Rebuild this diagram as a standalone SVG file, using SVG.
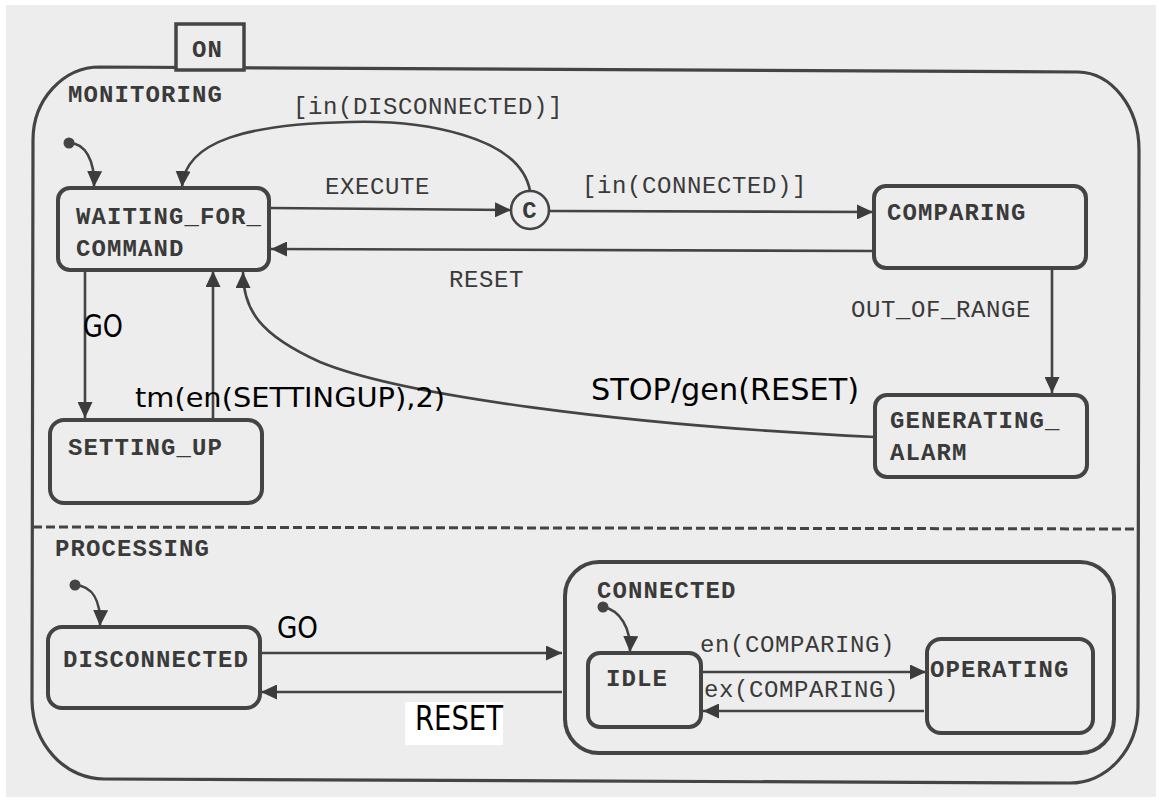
<svg xmlns="http://www.w3.org/2000/svg" width="1159" height="800" viewBox="0 0 1159 800">
<style>
.box{fill:none;stroke:#444;stroke-width:4}
.ln{fill:none;stroke:#444;stroke-width:2.6}
.st{font-family:"Liberation Mono",monospace;font-weight:bold;font-size:24px;letter-spacing:1.1px;fill:#3a3a3a}
.lb{font-family:"Liberation Mono",monospace;font-size:24px;letter-spacing:0.6px;fill:#3a3a3a}
.sn{font-family:"DejaVu Sans",sans-serif;fill:#000}
.dot{fill:#444}
</style>
<defs>
<marker id="ah" markerUnits="userSpaceOnUse" markerWidth="17" markerHeight="15" refX="16" refY="7.5" orient="auto">
<path d="M0,0 L16,7.5 L0,15 Z" fill="#3c3c3c"/>
</marker>
</defs>
<rect x="0" y="0" width="1159" height="800" fill="#ffffff"/>
<rect x="6" y="5" width="1150" height="792" fill="#ecedec"/>

<g id="ON">
<path d="M100,67 L1078,72 A62,78 0 0 1 1139,150 L1138,707 A68,76 0 0 1 1070,783 L105,779 A72,80 0 0 1 32,700 L33,140 A67,73 0 0 1 100,67 Z" fill="none" stroke="#444" stroke-width="3.2"/>
<rect x="176" y="24" width="68" height="46" fill="#ecedec" stroke="#444" stroke-width="3.5"/>
<text class="st" x="192" y="57">ON</text>
<path d="M33,527 L1138,529" fill="none" stroke="#444" stroke-width="3" stroke-dasharray="9 4"/>
</g>

<g id="MONITORING">
<text class="st" x="68" y="102">MONITORING</text>
</g>

<g id="WAITING_FOR_COMMAND">
<rect class="box" x="58" y="188" width="211" height="82" rx="12"/>
<text class="st" x="76" y="224">WAITING_FOR_</text>
<text class="st" x="76" y="256">COMMAND</text>
</g>

<g id="C">
<circle cx="530" cy="210" r="19" fill="#ecedec" stroke="#444" stroke-width="2.6"/>
<text class="st" x="530" y="218" text-anchor="middle" font-size="22" letter-spacing="0">C</text>
</g>

<g id="COMPARING">
<rect class="box" x="874" y="186" width="212" height="82" rx="12"/>
<text class="st" x="887" y="220">COMPARING</text>
</g>

<g id="GENERATING_ALARM">
<rect class="box" x="875" y="395" width="212" height="82" rx="12"/>
<text class="st" x="890" y="428">GENERATING_</text>
<text class="st" x="890" y="460">ALARM</text>
</g>

<g id="SETTING_UP">
<rect class="box" x="50" y="420" width="212" height="83" rx="14"/>
<text class="st" x="68" y="455">SETTING_UP</text>
</g>

<g id="PROCESSING">
<text class="st" x="55" y="556">PROCESSING</text>
</g>

<g id="DISCONNECTED">
<rect class="box" x="48" y="627" width="212" height="81" rx="14"/>
<text class="st" x="63" y="667">DISCONNECTED</text>
</g>

<g id="CONNECTED">
<rect class="box" x="565" y="562" width="549" height="191" rx="34" stroke-width="3.6"/>
<text class="st" x="597" y="598">CONNECTED</text>
</g>

<g id="IDLE">
<rect class="box" x="588" y="653" width="113" height="74" rx="12"/>
<text class="st" x="606" y="686">IDLE</text>
</g>

<g id="OPERATING">
<rect class="box" x="927" y="639" width="166" height="94" rx="14"/>
<text class="st" x="930" y="677">OPERATING</text>
</g>

<g id="connectors">
<circle class="dot" cx="69" cy="143" r="5.5"/>
<path class="ln" d="M69,143 C85,143 95,160 94,187" marker-end="url(#ah)"/>
<path class="ln" d="M530,191 C520,135 420,120 350,122 C250,124 185,140 182,187" marker-end="url(#ah)"/>
<text class="lb" x="293" y="114">[in(DISCONNECTED)]</text>
<path class="ln" d="M270,208 L511,210" marker-end="url(#ah)"/>
<text class="lb" x="325" y="194">EXECUTE</text>
<path class="ln" d="M549,211 L873,212" marker-end="url(#ah)"/>
<text class="lb" x="582" y="193" letter-spacing="0.3">[in(CONNECTED)]</text>
<path class="ln" d="M874,251 L271,249" marker-end="url(#ah)"/>
<text class="lb" x="449" y="287" letter-spacing="1.2">RESET</text>
<path class="ln" d="M1052,268 L1052,393" marker-end="url(#ah)"/>
<text class="lb" x="851" y="317" letter-spacing="1.1">OUT_OF_RANGE</text>
<path class="ln" d="M875,437 C620,425 400,395 320,362 C260,335 243,310 243,272" marker-end="url(#ah)"/>
<text class="sn" x="591" y="400" font-size="31" textLength="268" lengthAdjust="spacingAndGlyphs">STOP/gen(RESET)</text>
<path class="ln" d="M85,270 L85,418" marker-end="url(#ah)"/>
<text class="sn" x="83" y="337" font-size="32" textLength="40" lengthAdjust="spacingAndGlyphs">GO</text>
<path class="ln" d="M213,420 L213,271" marker-end="url(#ah)"/>
<text class="sn" x="135" y="407" font-size="27" textLength="310" lengthAdjust="spacingAndGlyphs">tm(en(SETTINGUP),2)</text>
<circle class="dot" cx="75" cy="585" r="5.5"/>
<path class="ln" d="M75,585 C92,586 101,600 100,626" marker-end="url(#ah)"/>
<path class="ln" d="M260,653 L562,653" marker-end="url(#ah)"/>
<text class="sn" x="277" y="638" font-size="31" textLength="41" lengthAdjust="spacingAndGlyphs">GO</text>
<path class="ln" d="M562,692 L261,692" marker-end="url(#ah)"/>
<rect x="405" y="702" width="98" height="43" fill="#ffffff"/>
<text class="sn" x="415" y="730" font-size="33" textLength="88" lengthAdjust="spacingAndGlyphs">RESET</text>
<circle class="dot" cx="603" cy="607" r="5.5"/>
<path class="ln" d="M603,607 C620,610 631,628 630,652" marker-end="url(#ah)"/>
<path class="ln" d="M702,672 L926,672" marker-end="url(#ah)"/>
<text class="lb" x="700" y="652">en(COMPARING)</text>
<path class="ln" d="M924,711 L703,711" marker-end="url(#ah)"/>
<text class="lb" x="704" y="697">ex(COMPARING)</text>
</g>
</svg>
